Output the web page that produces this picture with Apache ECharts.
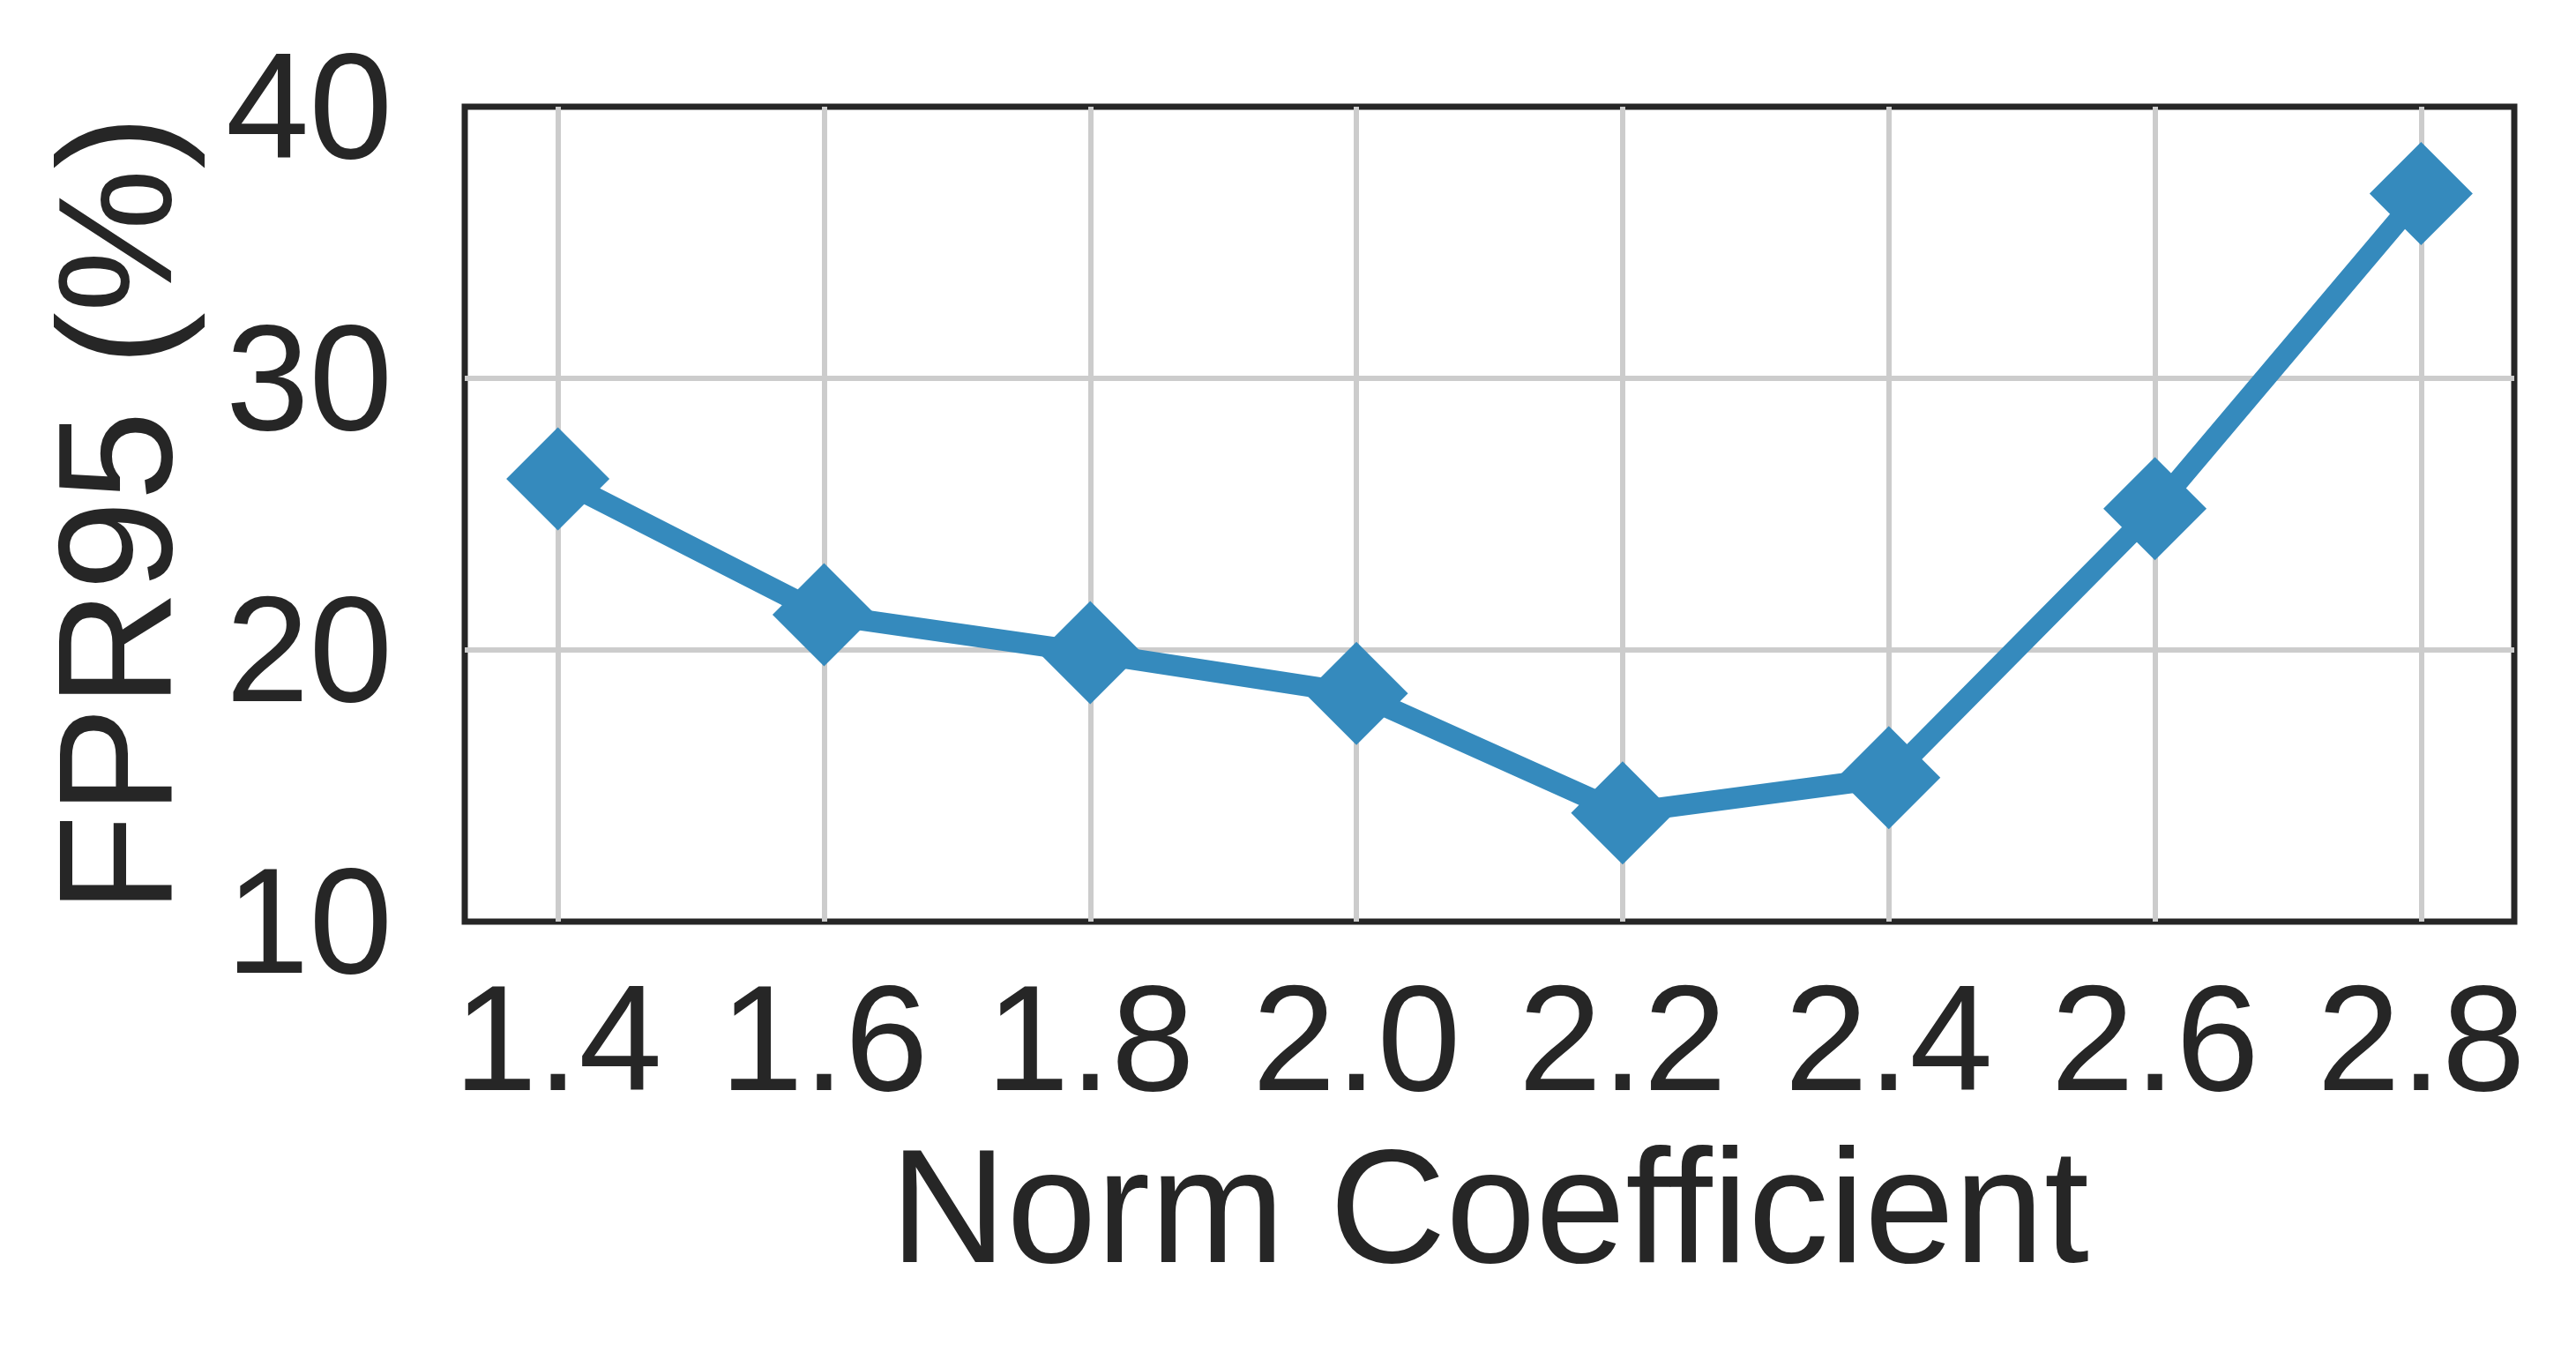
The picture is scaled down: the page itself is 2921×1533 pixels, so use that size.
<!DOCTYPE html>
<html>
<head>
<meta charset="utf-8">
<script src="https://cdn.jsdelivr.net/npm/echarts@6/dist/echarts.min.js"></script>
<style>
  html, body { margin: 0; padding: 0; background: #fff; }
  #main { width: 2921px; height: 1533px; }
</style>
</head>
<body>
<div id="main"></div>
<script>
// norm coefficient vs FPR95
var coefs = [1.4, 1.6, 1.8, 2.0, 2.2, 2.4, 2.6, 2.8];
var fpr95 = [26.3, 21.3, 19.9, 18.4, 14.0, 15.3, 25.2, 36.8];
var yTicks = [10, 20, 30, 40];

var myChart = echarts.init(document.getElementById('main'));
var textColor = '#262626';
var font = 'Liberation Sans, Arial, Helvetica, sans-serif';

var option = {
    animation: false,
    backgroundColor: '#ffffff',
    grid: {
        left: 527,
        right: 70,
        top: 121,
        bottom: 488,
        show: true,
        borderColor: textColor,
        borderWidth: 7,
        backgroundColor: 'transparent'
    },
    xAxis: {
        type: 'value',
        min: 1.33,
        max: 2.87,
        name: 'Norm Coefficient',
        nameLocation: 'middle',
        nameGap: 244,
        nameTextStyle: { fontSize: 183, color: textColor, fontFamily: font },
        axisLine: { show: false },
        axisTick: { show: false, customValues: coefs },
        axisLabel: {
            customValues: coefs,
            fontSize: 170,
            color: textColor,
            fontFamily: font,
            margin: 59,
            formatter: function (v) { return v.toFixed(1); }
        },
        splitLine: { show: true, lineStyle: { color: '#cccccc', width: 6 } }
    },
    yAxis: {
        type: 'value',
        min: yTicks[0],
        max: yTicks[yTicks.length - 1],
        interval: 10,
        name: 'FPR95 (%)',
        nameLocation: 'middle',
        nameGap: 292,
        nameTextStyle: { fontSize: 183, color: textColor, fontFamily: font },
        axisLine: { show: false },
        axisTick: { show: false },
        axisLabel: {
            fontSize: 170,
            color: textColor,
            fontFamily: font,
            margin: 82,
            verticalAlign: 'top',
            lineHeight: 22
        },
        splitLine: {
            show: true,
            showMinLine: false,
            showMaxLine: false,
            lineStyle: { color: '#cccccc', width: 6 }
        }
    },
    series: [{
        type: 'line',
        data: coefs.map(function (c, i) { return [c, fpr95[i]]; }),
        symbol: 'diamond',
        symbolSize: 117,
        color: '#358ABD',
        lineStyle: { width: 24, color: '#358ABD' },
        itemStyle: { color: '#358ABD' }
    }]
};
myChart.setOption(option);
</script>
</body>
</html>
